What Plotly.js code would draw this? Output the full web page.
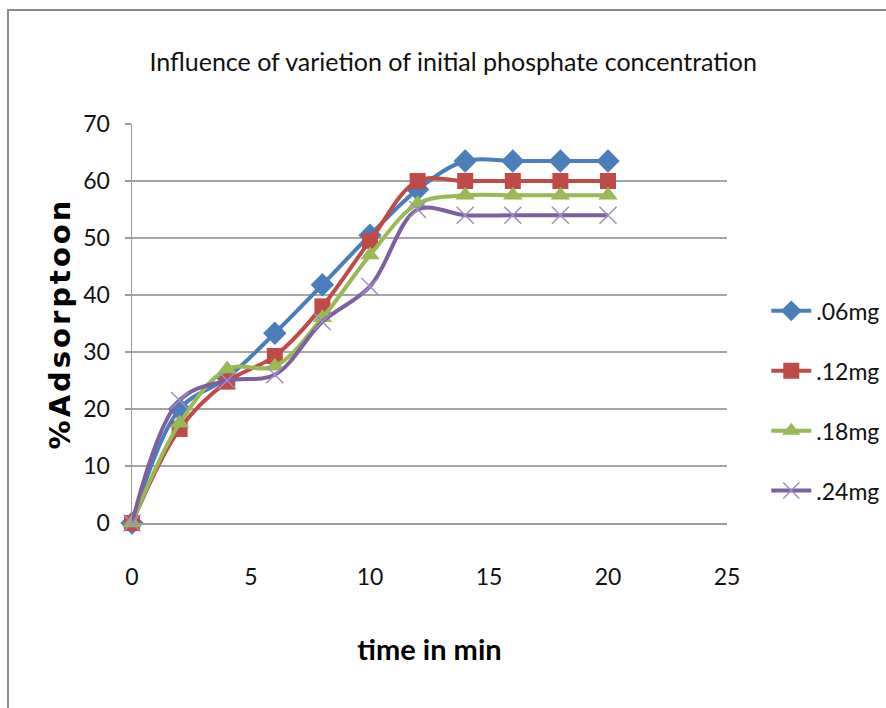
<!DOCTYPE html>
<html>
<head>
<meta charset="utf-8">
<script src="https://cdn.plot.ly/plotly-3.0.1.min.js"></script>
<style>
  html, body { margin: 0; padding: 0; background: #fff; }
  #wrap { position: relative; width: 886px; height: 708px; overflow: hidden; }
  #chart { width: 910px; height: 708px; }
  #frame { position: absolute; left: 7px; top: 9px; width: 900px; height: 720px;
           border-left: 2px solid #8c8c8c; border-top: 2px solid #8c8c8c; pointer-events: none; }
  #chart .ytitle { letter-spacing: 3px; }
</style>
</head>
<body>
<div id="wrap">
  <div id="chart"></div>
  <div id="frame"></div>
</div>
<script>
const time = [0, 2, 4, 6, 8, 10, 12, 14, 16, 18, 20];
const s06 = [0, 20, 25.5, 33.3, 41.8, 50.5, 58.5, 63.5, 63.5, 63.5, 63.5];
const s12 = [0, 16.5, 24.8, 29.3, 38, 49.5, 60, 60, 60, 60, 60];
const s18 = [0, 17.5, 27, 27.5, 36, 47, 56, 57.5, 57.5, 57.5, 57.5];
const s24 = [0, 21.5, 25, 26, 35.3, 41.5, 55, 54, 54, 54, 54];
const seriesNames = ['.06mg', '.12mg', '.18mg', '.24mg'];
const xTicks = [0, 5, 10, 15, 20, 25];
const yTicks = [0, 10, 20, 30, 40, 50, 60, 70];

const narrow = 'Lato, Roboto, sans-serif';
const wide = 'DejaVu Sans, Verdana, sans-serif';

function tr(y, name, color, symbol, msize, mcolor, mline) {
  return {
    x: time, y: y, name: name, type: 'scatter', mode: 'lines+markers',
    legendgroup: name, cliponaxis: false,
    line: { color: color, width: 4, shape: 'spline', smoothing: 1 },
    marker: { symbol: symbol, size: msize, color: mcolor || color,
              line: mline || { width: 0 } }
  };
}

const data = [
  tr(s06, seriesNames[0], '#4A7EBB', 'diamond', 18),
  tr(s12, seriesNames[1], '#BE4B48', 'square', 16),
  tr(s18, seriesNames[2], '#98B954', 'triangle-up', 17),
  tr(s24, seriesNames[3], '#7D60A0', 'x-thin', 17, '#9d8fc4', { width: 1.5, color: '#9d8fc4' })
];

const layout = {
  width: 910, height: 708,
  margin: { l: 132, r: 183, t: 124, b: 185 },
  paper_bgcolor: '#ffffff', plot_bgcolor: '#ffffff',
  showlegend: true,
  title: {
    text: 'Influence of varietion of initial phosphate concentration',
    font: { family: narrow, size: 25, color: '#111' },
    x: 0.498, xanchor: 'center', y: 0.912, yanchor: 'middle'
  },
  xaxis: {
    range: [0, 25], tickvals: xTicks, ticktext: xTicks.map(String),
    showgrid: false, zeroline: false, showline: true, linecolor: '#9a9a9a', linewidth: 1.5,
    ticks: '', ticklabelstandoff: 33, tickfont: { family: narrow, size: 23, color: '#111' },
    title: { text: '<b>time in min</b>', font: { family: narrow, size: 29, color: '#000' }, standoff: 50 }
  },
  yaxis: {
    range: [0, 70], tickvals: yTicks, ticktext: yTicks.map(String),
    showgrid: true, gridcolor: '#a6a6a6', gridwidth: 1.5, zeroline: false,
    showline: true, linecolor: '#9a9a9a', linewidth: 1.5,
    ticks: 'outside', ticklen: 6, tickcolor: '#9a9a9a', tickwidth: 1.5, ticklabelstandoff: 10,
    tickfont: { family: narrow, size: 23, color: '#111' },
    title: { text: '<b>%Adsorptoon</b>', font: { family: wide, size: 29, color: '#000' }, standoff: 4 }
  },
  legend: {
    x: 1.066, xanchor: 'left', y: 0.306, yanchor: 'middle',
    font: { family: narrow, size: 23, color: '#111' },
    tracegroupgap: 27, itemwidth: 40, bgcolor: 'rgba(0,0,0,0)'
  }
};

Plotly.newPlot('chart', data, layout, { displayModeBar: false, staticPlot: true });
</script>
</body>
</html>
